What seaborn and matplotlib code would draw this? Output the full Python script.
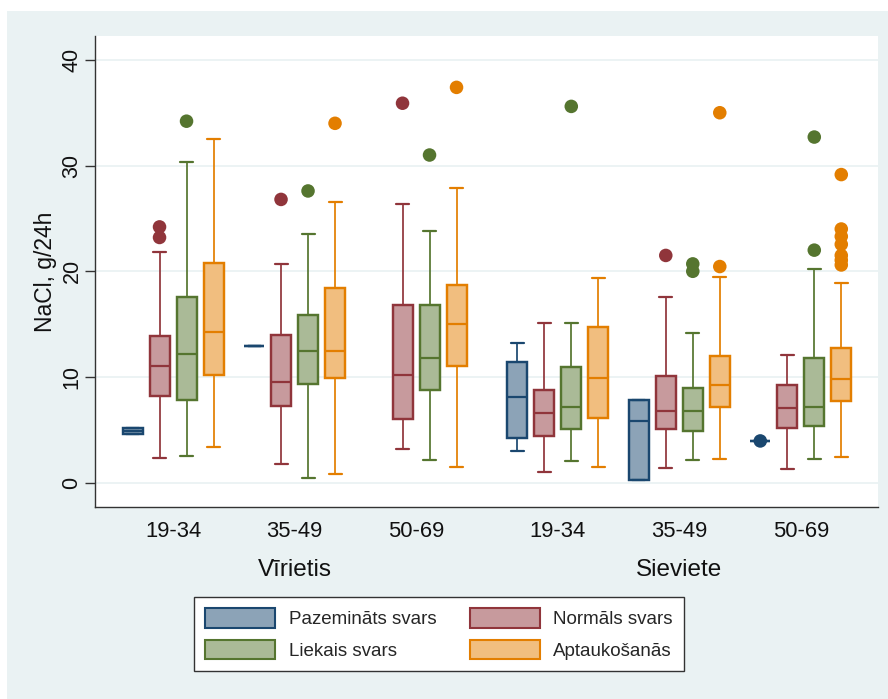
import numpy as np
import pandas as pd
import matplotlib
matplotlib.use("Agg")
import matplotlib.pyplot as plt
from matplotlib.patches import Patch, Rectangle
import matplotlib.transforms as mtransforms
import seaborn as sns

# ---------------- data ----------------
sexes = ["Vīrietis", "Sieviete"]
ages = ["19-34", "35-49", "50-69"]
categories = ["Pazemināts svars", "Normāls svars", "Liekais svars", "Aptaukošanās"]

# box statistics, group order: V 19-34, V 35-49, V 50-69, S 19-34, S 35-49, S 50-69
paz_lo  = [4.6, 12.9, np.nan, 3.0, 0.25, 3.95]
paz_q1  = [4.6, 12.9, np.nan, 4.2, 0.25, 3.95]
paz_med = [4.9, 12.9, np.nan, 8.1, 5.8, 3.95]
paz_q3  = [5.2, 12.9, np.nan, 11.4, 7.85, 3.95]
paz_hi  = [5.2, 12.9, np.nan, 13.25, 7.85, 3.95]
paz_out = [(5, 3.95)]

nor_lo  = [2.3, 1.8, 3.15, 1.0, 1.4, 1.25]
nor_q1  = [8.2, 7.25, 6.0, 4.45, 5.1, 5.2]
nor_med = [11.0, 9.55, 10.2, 6.6, 6.8, 7.1]
nor_q3  = [13.9, 14.0, 16.8, 8.8, 10.05, 9.25]
nor_hi  = [21.8, 20.7, 26.4, 15.1, 17.55, 12.1]
nor_out = [(0, 24.2), (0, 23.2), (1, 26.8), (2, 35.9), (4, 21.5)]

lie_lo  = [2.55, 0.4, 2.1, 2.05, 2.15, 2.25]
lie_q1  = [7.8, 9.3, 8.8, 5.1, 4.9, 5.35]
lie_med = [12.2, 12.45, 11.8, 7.2, 6.8, 7.2]
lie_q3  = [17.6, 15.9, 16.85, 10.9, 8.95, 11.8]
lie_hi  = [30.3, 23.5, 23.8, 15.1, 14.2, 20.2]
lie_out = [(0, 34.2), (1, 27.6), (2, 31.0), (3, 35.6), (4, 20.7), (4, 20.0),
           (5, 32.7), (5, 22.0)]

apt_lo  = [3.4, 0.8, 1.45, 1.5, 2.2, 2.4]
apt_q1  = [10.15, 9.95, 11.05, 6.15, 7.15, 7.75]
apt_med = [14.3, 12.5, 15.0, 9.9, 9.25, 9.8]
apt_q3  = [20.75, 18.4, 18.7, 14.7, 12.0, 12.7]
apt_hi  = [32.5, 26.6, 27.9, 19.4, 19.45, 18.9]
apt_out = [(1, 34.0), (2, 37.4), (4, 35.0), (4, 20.45), (5, 29.15), (5, 24.0),
           (5, 23.3), (5, 22.55), (5, 21.5), (5, 21.05), (5, 20.6)]

edge_colors = ["#1a476f", "#90353b", "#55752f", "#e37e00"]
fill_colors = ["#8ca3b7", "#c79a9d", "#aaba97", "#f1be7f"]

stats = {
    categories[0]: (paz_lo, paz_q1, paz_med, paz_q3, paz_hi, paz_out),
    categories[1]: (nor_lo, nor_q1, nor_med, nor_q3, nor_hi, nor_out),
    categories[2]: (lie_lo, lie_q1, lie_med, lie_q3, lie_hi, lie_out),
    categories[3]: (apt_lo, apt_q1, apt_med, apt_q3, apt_hi, apt_out),
}

# ---------------- layout of slots ----------------
group_pitch = 4.5
sex_extra = 0.75


def group_start(gi):
    si, ai = divmod(gi, 3)
    return si * (3 * group_pitch + sex_extra) + ai * group_pitch


rows, out_rows = [], []
for ci, cat in enumerate(categories):
    lo, q1, med, q3, hi, outs = stats[cat]
    for gi in range(6):
        if np.isnan(med[gi]):
            continue
        pos = group_start(gi) + ci
        for v in (lo[gi], q1[gi], med[gi], q3[gi], hi[gi]):
            rows.append({"cat": cat, "pos": pos, "val": v})
    for gi, v in outs:
        out_rows.append({"cat": cat, "pos": group_start(gi) + ci, "val": v})

df = pd.DataFrame(rows)
df_out = pd.DataFrame(out_rows)

# ---------------- figure ----------------
sns.set_style("white")
plt.rcParams["font.family"] = ["Liberation Sans", "DejaVu Sans"]

W, H = 888, 699
fig = plt.figure(figsize=(W / 100, H / 100), dpi=100, facecolor="white")
fig.patches.append(Rectangle((7 / W, 0), (W - 7) / W, (H - 11) / H,
                             transform=fig.transFigure, facecolor="#EAF2F3",
                             edgecolor="none", zorder=-10))
ax = fig.add_axes([95 / W, 1 - 507 / H, (878 - 95) / W, (507 - 36) / H])
ax.set_facecolor("white")

box_w = 0.74
for ci, cat in enumerate(categories):
    sub = df[df["cat"] == cat]
    native_unit = np.diff(np.unique(sub["pos"])).min()
    sns.boxplot(data=sub, x="pos", y="val", native_scale=True, orient="x",
                whis=(0, 100), showfliers=False, width=box_w / native_unit,
                color=fill_colors[ci], linecolor=edge_colors[ci],
                saturation=1, linewidth=1.6, ax=ax, zorder=2,
                capwidths=0.48,
                boxprops=dict(linewidth=1.75),
                medianprops=dict(linewidth=1.6),
                whiskerprops=dict(linewidth=1.25),
                capprops=dict(linewidth=1.6))

sns.scatterplot(data=df_out, x="pos", y="val", hue="cat", hue_order=categories,
                palette=edge_colors, s=95, edgecolor="none", legend=False,
                ax=ax, zorder=3)

ax.set_ylim(-2.3, 42.26)
ax.set_xlim(-1.39, 27.61)
ax.set_yticks([0, 10, 20, 30, 40])
ax.set_yticklabels(["0", "10", "20", "30", "40"], rotation=90, va="center",
                   fontsize=15.5, color="#111111")
ax.yaxis.grid(True, color="#EAF2F3", linewidth=1.3)
ax.set_axisbelow(True)
ax.tick_params(axis="y", direction="out", length=7, width=1, color="#333333",
               pad=2, left=True)

centers = [group_start(gi) + 1.5 for gi in range(6)]
ax.set_xticks(centers)
ax.set_xticklabels(ages * 2, fontsize=15.8, color="#111111")
ax.tick_params(axis="x", length=0, pad=10)
ax.set_xlabel("")
ax.set_ylabel("NaCl, g/24h", fontsize=16.5, labelpad=3, color="#111111")

trans = mtransforms.blended_transform_factory(ax.transData, ax.transAxes)
for si, sex in enumerate(sexes):
    cx = np.mean([centers[si * 3], centers[si * 3 + 2]])
    ax.text(cx, -0.134, sex, transform=trans, ha="center", va="center",
            fontsize=17.5, color="#111111")

for side in ["top", "right"]:
    ax.spines[side].set_visible(False)
for side in ["left", "bottom"]:
    ax.spines[side].set_color("#333333")
    ax.spines[side].set_linewidth(1.0)

order = [0, 2, 1, 3]
handles = [Patch(facecolor=fill_colors[i], edgecolor=edge_colors[i],
                 linewidth=1.5, label=categories[i]) for i in order]
leg = fig.legend(handles=handles, ncol=2, loc="center",
                 bbox_to_anchor=(439 / W, 1 - 634 / H), fontsize=13.5,
                 frameon=True, fancybox=False, edgecolor="#333333",
                 facecolor="white", framealpha=1,
                 handlelength=3.75, handleheight=1.25, handletextpad=0.7,
                 columnspacing=1.8, labelspacing=0.6, borderpad=0.6)
leg.get_frame().set_linewidth(1.0)

fig.savefig("out.png", dpi=100, facecolor="white")
